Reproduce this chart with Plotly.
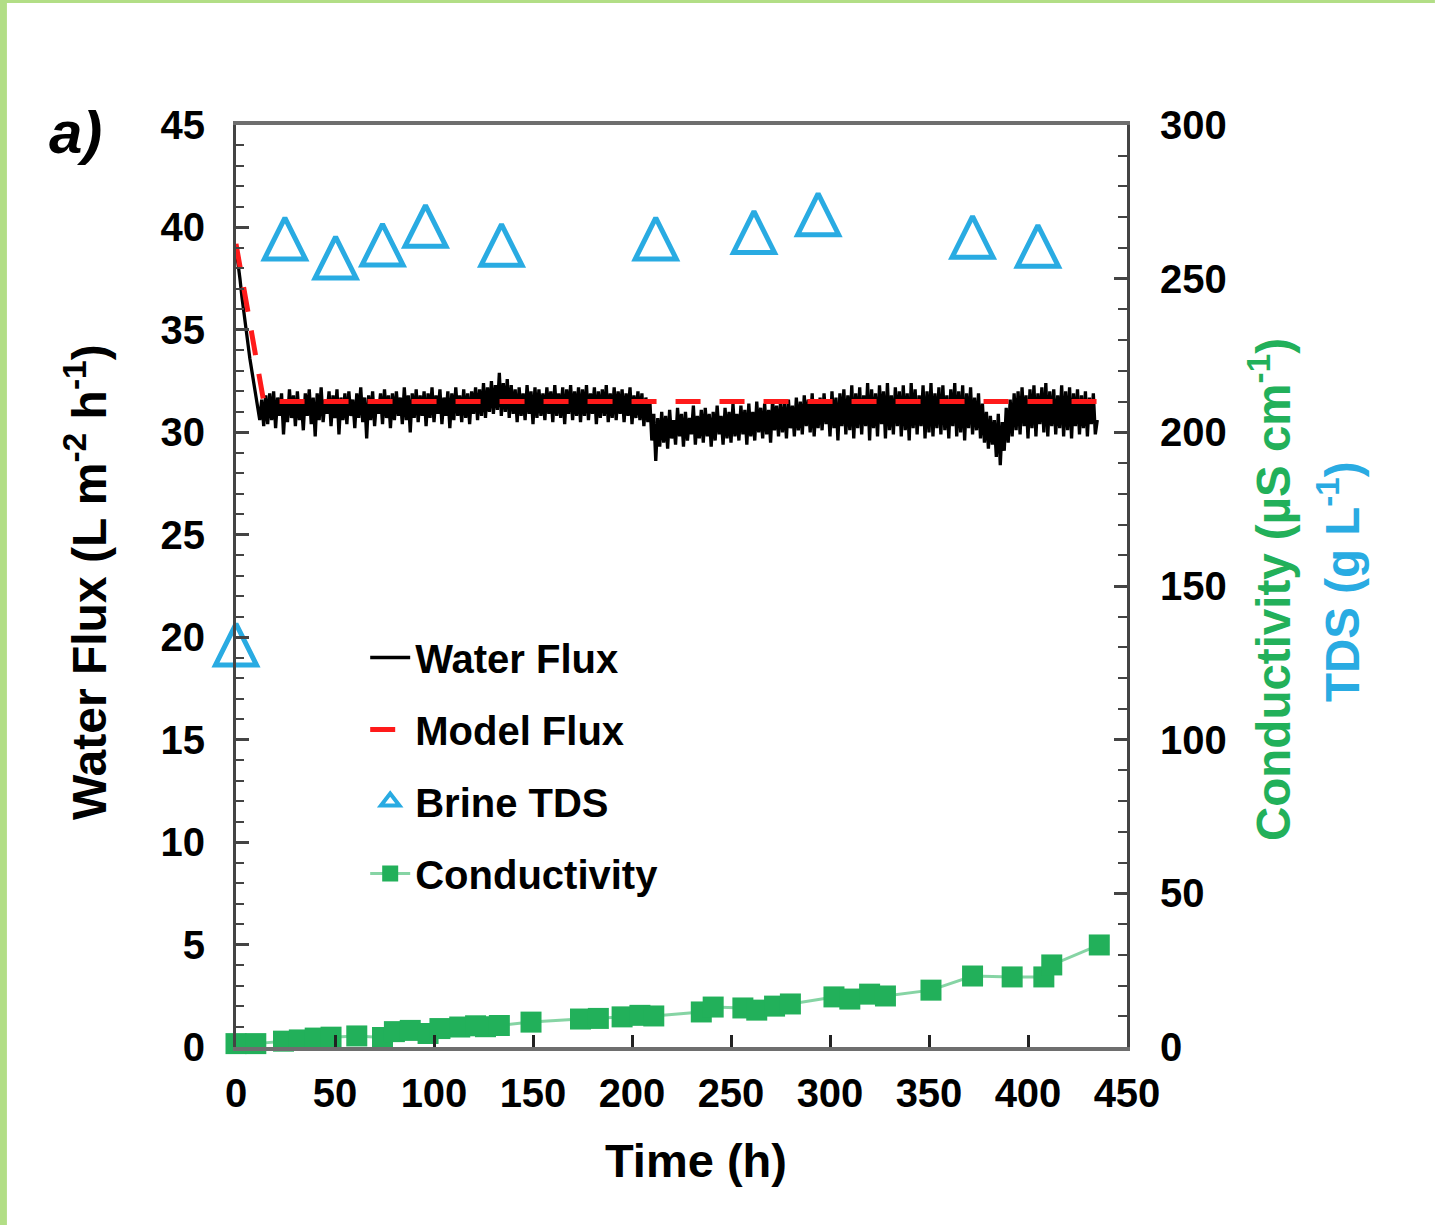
import plotly.graph_objects as go

# ---------------- data ----------------
# water flux, one reading per hour from t = 0 h
water_flux = [
    39.0, 38.3, 37.5, 36.6, 35.8, 35.0, 34.3, 33.6, 33.0, 32.4, 31.9, 31.2, 30.6, 31.6, 30.3, 31.8,
    30.4, 31.9, 30.6, 32.0, 30.2, 31.7, 30.8, 31.9, 29.9, 31.6, 30.5, 32.1, 30.7, 31.8, 30.3, 32.0, 30.6, 31.5, 30.1, 31.9,
    30.8, 32.1, 30.4, 31.7, 29.8, 31.9, 30.6, 32.2, 30.5, 31.6, 30.9, 32.0, 30.3, 31.8, 30.7, 32.1, 29.9, 31.7, 30.6, 31.9,
    30.4, 32.0, 30.8, 31.6, 30.2, 31.9, 30.7, 32.2, 30.5, 31.7, 29.7, 31.8, 30.6, 32.0, 30.3, 31.6, 30.9, 31.9, 30.4, 32.1,
    30.7, 31.8, 30.2, 31.9, 30.6, 32.0, 30.8, 31.7, 30.4, 32.2, 30.6, 31.8, 30.0, 31.9, 30.7, 32.1, 30.5, 31.8, 30.8, 32.0,
    30.3, 31.9, 30.7, 32.2, 30.5, 31.8, 30.9, 32.1, 30.4, 31.7, 30.8, 32.0, 30.2, 31.9, 30.6, 32.2, 30.8, 31.8, 30.5, 32.1,
    30.7, 31.9, 30.4, 32.0, 30.9, 32.2, 30.6, 32.1, 30.8, 32.4, 30.7, 32.2, 31.0, 32.5, 30.9, 32.3, 31.1, 32.9, 30.8, 32.4,
    31.0, 32.6, 30.7, 32.3, 30.9, 32.1, 30.5, 32.2, 30.8, 31.9, 30.6, 32.3, 30.9, 32.0, 30.4, 32.2, 30.7, 32.1, 30.8, 31.9,
    30.6, 32.2, 30.9, 32.0, 30.5, 32.3, 30.8, 31.9, 30.7, 32.2, 30.4, 32.1, 30.9, 32.3, 30.6, 32.0, 30.8, 32.2, 30.5, 32.1,
    30.8, 32.3, 30.6, 31.9, 30.9, 32.2, 30.4, 32.0, 30.7, 32.1, 30.8, 32.3, 30.5, 31.9, 30.7, 32.2, 30.6, 32.0, 30.9, 32.1,
    30.5, 31.9, 30.8, 32.2, 30.4, 31.8, 30.7, 32.0, 30.6, 31.9, 30.3, 31.7, 30.5, 31.6, 29.6, 30.9, 28.6, 30.7, 29.3, 31.0,
    29.5, 30.8, 29.2, 31.1, 29.7, 30.6, 29.4, 31.2, 29.8, 30.9, 29.3, 31.0, 29.6, 30.7, 29.9, 31.3, 29.4, 30.8, 29.7, 31.1,
    29.5, 31.2, 29.8, 30.9, 29.3, 31.0, 29.6, 31.3, 29.9, 30.8, 29.4, 31.2, 29.7, 31.0, 29.5, 31.4, 29.8, 30.9, 29.6, 31.3,
    29.9, 31.1, 29.4, 31.4, 29.8, 31.0, 29.6, 31.5, 30.0, 31.2, 29.7, 31.4, 29.9, 31.1, 29.5, 31.6, 30.1, 31.3, 29.8, 31.5,
    30.0, 31.4, 29.7, 31.6, 30.2, 31.3, 29.8, 31.7, 30.1, 31.5, 29.9, 31.8, 30.3, 31.6, 30.0, 31.9, 29.8, 31.5, 30.2, 31.7,
    30.1, 31.9, 30.4, 31.6, 29.8, 32.0, 30.2, 31.7, 29.6, 31.9, 30.3, 32.1, 29.9, 31.8, 30.1, 32.3, 29.7, 31.9, 30.2, 32.2,
    29.9, 31.8, 30.3, 32.4, 29.6, 32.1, 30.2, 31.9, 29.8, 32.3, 30.4, 32.0, 29.7, 32.4, 30.1, 31.8, 29.9, 32.2, 30.3, 32.0,
    29.8, 32.3, 30.1, 31.9, 29.6, 32.4, 30.2, 32.1, 29.9, 31.8, 30.3, 32.3, 29.7, 32.0, 30.0, 32.4, 29.8, 31.9, 30.2, 32.2,
    29.9, 32.3, 30.1, 31.8, 29.7, 32.1, 30.3, 32.4, 29.8, 32.0, 30.0, 32.3, 29.6, 31.9, 30.2, 32.2, 29.9, 31.7, 30.1, 31.9,
    29.7, 31.4, 29.5, 31.0, 29.2, 30.8, 29.4, 30.6, 28.8, 30.9, 28.4, 30.5, 29.1, 31.2, 29.5, 31.6, 29.8, 31.9, 30.1, 32.0,
    29.9, 32.2, 30.3, 31.8, 29.7, 32.1, 30.2, 32.3, 29.8, 31.9, 30.4, 32.2, 30.0, 32.4, 29.8, 32.0, 30.3, 32.1, 29.9, 31.8,
    30.2, 32.3, 29.8, 32.0, 30.1, 32.2, 29.7, 31.9, 30.3, 32.1, 29.9, 31.8, 30.2, 32.0, 29.8, 31.7, 30.4, 31.9, 29.9, 30.6,
]
flux_time = list(range(len(water_flux)))

model_time = [0, 14, 435]
model_flux = [39.2, 31.5, 31.5]

tds_time = [0, 24.7, 50.3, 74, 95.7, 134.1, 212, 261.6, 294, 372, 405]
tds_value = [131.0, 263.1, 256.9, 261.1, 267.2, 261.0, 263.1, 265.2, 271.0, 263.6, 260.7]

cond_time = [0, 10, 24, 32, 40, 48, 61, 74, 80, 88, 97, 103, 113, 121, 126, 133,
             149, 174, 183, 195, 204, 211, 235, 241, 256, 263, 272, 280, 302, 310,
             320, 328, 351, 372, 392, 408, 412, 436]
cond_value = [1.1, 1.1, 1.9, 2.3, 2.9, 3.2, 3.6, 3.1, 5.0, 5.4, 4.4, 6.0, 6.5, 6.9, 6.6, 7.0,
              8.1, 9.1, 9.3, 9.8, 10.3, 10.1, 11.4, 13.0, 12.7, 12.0, 13.3, 14.0, 16.3, 15.6,
              17.2, 16.6, 18.5, 23.1, 22.8, 22.8, 26.7, 33.2]

x_ticks = [0, 50, 100, 150, 200, 250, 300, 350, 400, 450]
y1_ticks = [0, 5, 10, 15, 20, 25, 30, 35, 40, 45]
y2_ticks = [0, 50, 100, 150, 200, 250, 300]

# ---------------- style ----------------
FONT = "Liberation Sans"
BLUE = "#29abe2"
GREEN = "#22b05a"
AXC = "#444444"
XAXC = "#6e6e6e"
TDS_SIZE = 41

fig = go.Figure()

fig.add_trace(go.Scatter(
    x=flux_time, y=water_flux, mode="lines", name="Water Flux",
    line=dict(color="black", width=3.3), legendgroup="g1"))

fig.add_trace(go.Scatter(
    x=model_time, y=model_flux, mode="lines", name="Model Flux",
    line=dict(color="#ff1a1a", width=5, dash="25px,19px"), legendgroup="g2"))

fig.add_trace(go.Scatter(
    x=tds_time, y=tds_value, yaxis="y2", mode="markers", name="Brine TDS",
    showlegend=False, cliponaxis=False, legendgroup="g3",
    marker=dict(symbol="arrow-down-open", angle=180, standoff=TDS_SIZE / 2,
                size=TDS_SIZE, color=BLUE, line=dict(color=BLUE, width=5))))
# legend entry for Brine TDS
fig.add_trace(go.Scatter(
    x=[None], y=[None], yaxis="y2", mode="markers", name="Brine TDS", legendgroup="g3",
    marker=dict(symbol="triangle-up-open", size=16, color=BLUE, line=dict(color=BLUE, width=4))))

fig.add_trace(go.Scatter(
    x=cond_time, y=cond_value, yaxis="y2", mode="lines+markers", name="Conductivity",
    cliponaxis=False, legendgroup="g4",
    line=dict(color="rgba(34,176,90,0.55)", width=3),
    marker=dict(symbol="square", size=21, color=GREEN)))

tickfont = dict(family=FONT, size=40, color="black", weight="bold")

fig.update_layout(
    width=1435, height=1225,
    margin=dict(l=236, r=308, t=125, b=178),
    paper_bgcolor="white", plot_bgcolor="white",
    showlegend=True,
    legend=dict(x=0.145, y=0.4577, xanchor="left", yanchor="top",
                bgcolor="rgba(0,0,0,0)", tracegroupgap=17,
                font=dict(family=FONT, size=40, color="black", weight="bold"),
                itemwidth=40),
    xaxis=dict(range=[0, 450], tickvals=x_ticks, ticks="inside", ticklen=12, tickwidth=3,
               tickcolor="#222222", showline=True, linecolor=XAXC, linewidth=3.5, mirror=True,
               showgrid=False, zeroline=False, tickfont=tickfont, ticklabelstandoff=8),
    yaxis=dict(range=[0, 45], tickvals=y1_ticks, ticks="inside", ticklen=13, tickwidth=3,
               tickcolor=AXC, showline=True, linecolor=AXC, linewidth=3, mirror=True,
               showgrid=False, zeroline=False, tickfont=tickfont, ticklabelstandoff=20,
               minor=dict(dtick=1, ticks="inside", ticklen=8, tickwidth=2, tickcolor=AXC)),
    yaxis2=dict(range=[0, 300], tickvals=y2_ticks, overlaying="y", side="right",
                ticks="inside", ticklen=13, tickwidth=3, tickcolor=AXC,
                showline=True, linecolor=AXC, linewidth=3, showgrid=False, zeroline=False,
                tickfont=tickfont, ticklabelstandoff=22,
                minor=dict(dtick=10, ticks="inside", ticklen=9, tickwidth=2, tickcolor=AXC)),
)

ann_font = dict(family=FONT, color="black", weight="bold")
fig.add_annotation(text="Water Flux (L m<sup>-2</sup> h<sup>-1</sup>)", textangle=-90,
                   xref="paper", yref="paper", x=-0.1684, y=0.5043, showarrow=False,
                   xanchor="center", yanchor="middle", font=dict(ann_font, size=48))
fig.add_annotation(text="Time (h)", xref="paper", yref="paper", x=0.5163, y=-0.1226,
                   showarrow=False, xanchor="center", yanchor="middle",
                   font=dict(ann_font, size=47))
fig.add_annotation(text="Conductivity (µS cm<sup>-1</sup>)", textangle=-90,
                   xref="paper", yref="paper", x=1.1605, y=0.4957, showarrow=False,
                   xanchor="center", yanchor="middle",
                   font=dict(family=FONT, size=47.5, color=GREEN, weight="bold"))
fig.add_annotation(text="TDS (g L<sup>-1</sup>)", textangle=-90,
                   xref="paper", yref="paper", x=1.2379, y=0.5054, showarrow=False,
                   xanchor="center", yanchor="middle",
                   font=dict(family=FONT, size=47.5, color=BLUE, weight="bold"))
fig.add_annotation(text="<i>a)</i>", xref="paper", yref="paper", x=-0.1796, y=0.9924,
                   showarrow=False, xanchor="center", yanchor="middle",
                   font=dict(family=FONT, size=60, color="black", weight="bold"))

# light-green frame of the original figure panel
BORDER = "#b2de86"
fig.add_shape(type="rect", xref="paper", yref="paper", x0=-0.2649, x1=1.3456,
              y0=1.1323, y1=1.14, line=dict(width=0), fillcolor=BORDER, layer="below")
fig.add_shape(type="rect", xref="paper", yref="paper", x0=-0.27, x1=-0.2571,
              y0=-0.2, y1=1.14, line=dict(width=0), fillcolor=BORDER, layer="below")

fig.write_html("out.html", config={"displayModeBar": False},
               post_script="document.body.style.margin='0px';")
